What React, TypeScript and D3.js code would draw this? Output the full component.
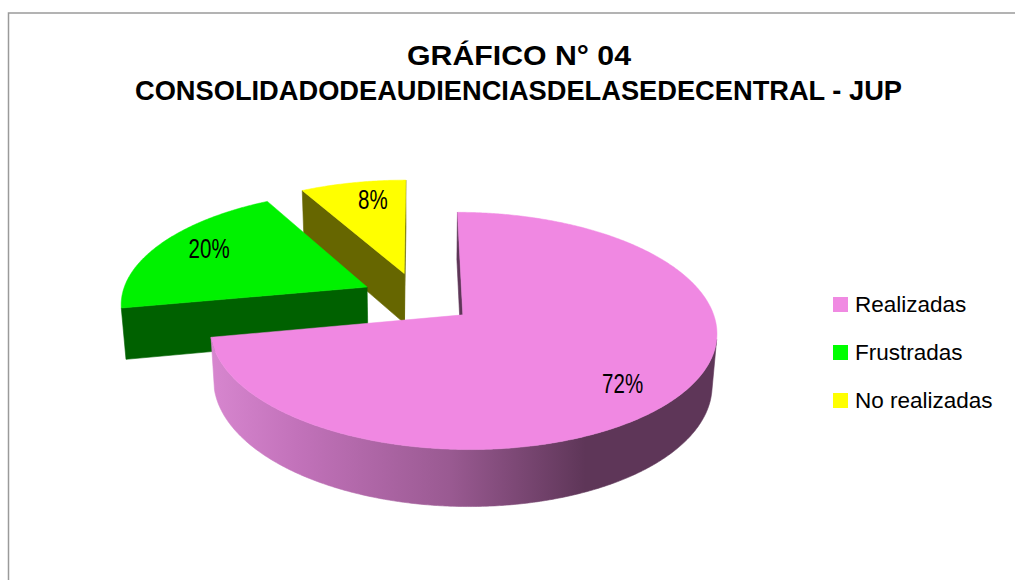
import React from "react";
import * as d3 from "d3";

// ---------- data ----------
const categories = ["Realizadas", "Frustradas", "No realizadas"];
const values = [72, 20, 8];
const percentLabels = ["72%", "20%", "8%"];
const titleLines = ["GRÁFICO N° 04", "CONSOLIDADODEAUDIENCIASDELASEDECENTRAL - JUP"];

// ---------- style ----------
const topColors = ["#f088e2", "#00f200", "#ffff00"];
const sideColors = ["#5e3658", "#006100", "#666600"];
const legendColors = ["#f08ae2", "#00ff00", "#ffff00"];
const pinkWallStops: [number, string][] = [
  [0, "#d786cf"],
  [0.17, "#c272ba"],
  [0.47, "#9a5a92"],
  [0.74, "#5e3658"],
  [1, "#5e3658"],
];

const W = 1015;
const H = 580;
const FONT = "'Liberation Sans', Arial, Helvetica, sans-serif";

// 3D geometry
const CX = 418;
const CY = 298;
const R = 246;
const THICK = 58;
const EXPLODE = 57;
const sinE = 0.455;
const cosE = Math.sqrt(1 - sinE * sinE);
const DIST = 1650;
const cam = [0, DIST * sinE, DIST * cosE];

type P3 = [number, number, number];
type P2 = [number, number];

function project(p: P3): P2 {
  const [x, y, z] = p;
  const d = y * sinE + z * cosE;
  const s = DIST / (DIST - d);
  return [CX + x * s, CY - (y * cosE - z * sinE) * s];
}

function visible(n: P3, p: P3): boolean {
  return n[0] * (cam[0] - p[0]) + n[1] * (cam[1] - p[1]) + n[2] * (cam[2] - p[2]) > 0;
}

const line = d3.line<P2>().x((d) => d[0]).y((d) => d[1]);
const closed = (pts: P2[]) => (line(pts) || "") + "Z";

interface Face {
  d: string;
  fill: string;
}

function buildSlice(a0: number, a1: number, i: number) {
  const mid = (a0 + a1) / 2;
  const ox = EXPLODE * Math.sin(mid);
  const oz = -EXPLODE * Math.cos(mid);
  const pt = (t: number, r: number, y: number): P3 => [ox + r * Math.sin(t), y, oz - r * Math.cos(t)];
  const n = Math.max(8, Math.ceil(((a1 - a0) * 180) / Math.PI / 0.5));
  const ts = d3.range(n + 1).map((k) => a0 + ((a1 - a0) * k) / n);

  const faces: Face[] = [];
  const wallFill = i === 0 ? "url(#wall0)" : sideColors[i];

  const radial = (t: number, nAng: number) => {
    const nrm: P3 = [Math.sin(nAng), 0, -Math.cos(nAng)];
    const c = pt(t, R / 2, -THICK / 2);
    if (visible(nrm, c)) {
      const pts = [pt(t, 0, 0), pt(t, R, 0), pt(t, R, -THICK), pt(t, 0, -THICK)].map(project);
      faces.push({ d: closed(pts), fill: sideColors[i] });
    }
  };
  radial(a0, a0 - Math.PI / 2);
  radial(a1, a1 + Math.PI / 2);

  let run: number[] = [];
  const flush = () => {
    if (run.length >= 2) {
      const topPts = run.map((t) => project(pt(t, R, 0)));
      const botPts = run.slice().reverse().map((t) => project(pt(t, R, -THICK)));
      faces.push({ d: closed([...topPts, ...botPts]), fill: wallFill });
    }
    run = [];
  };
  for (let k = 0; k < n; k++) {
    const tm = (ts[k] + ts[k + 1]) / 2;
    const nrm: P3 = [Math.sin(tm), 0, -Math.cos(tm)];
    if (visible(nrm, pt(tm, R, -THICK / 2))) {
      if (run.length === 0) run.push(ts[k]);
      run.push(ts[k + 1]);
    } else flush();
  }
  flush();

  const topPts: P2[] = [project(pt(0, 0, 0)), ...ts.map((t) => project(pt(t, R, 0)))];
  const top = closed(topPts);

  const xs = ts.map((t) => project(pt(t, R, 0))[0]);
  const labelPos = project(pt(mid + 0.06, R * 0.79, 0));
  return { faces, top, oz, gx0: d3.min(xs)!, gx1: d3.max(xs)!, labelPos };
}

export default function App() {
  const pie = d3
    .pie<number>()
    .sort(null)
    .startAngle(0)
    .endAngle(2 * Math.PI);
  const arcs = pie(values);
  const slices = arcs.map((a, i) => ({ i, ...buildSlice(a.startAngle, a.endAngle, i) }));
  const order = slices.slice().sort((a, b) => a.oz - b.oz);

  const legendX = 833;
  const legendY0 = 297;
  const legendStep = 48;

  return (
    <div style={{ position: "fixed", left: 0, top: 0, width: W, height: H, background: "#fff" }}>
      <svg width={W} height={H} viewBox={`0 0 ${W} ${H}`} style={{ display: "block" }}>
        <defs>
          <linearGradient
            id="wall0"
            gradientUnits="userSpaceOnUse"
            x1={slices[0].gx0}
            x2={slices[0].gx1}
            y1={0}
            y2={0}
          >
            {pinkWallStops.map(([o, c], k) => (
              <stop key={k} offset={o} stopColor={c} />
            ))}
          </linearGradient>
        </defs>
        <rect x={0} y={0} width={W} height={H} fill="#ffffff" />
        <rect x={8.5} y={13} width={W + 20} height={H + 20} fill="none" stroke="#9a9a9a" strokeWidth={1.5} />

        {/* title */}
        <text
          x={519}
          y={65}
          textAnchor="middle"
          fontFamily={FONT}
          fontWeight="bold"
          fontSize={28.5}
          textLength={224}
          lengthAdjust="spacingAndGlyphs"
          fill="#000"
        >
          {titleLines[0]}
        </text>
        <text
          x={518.5}
          y={100}
          textAnchor="middle"
          fontFamily={FONT}
          fontWeight="bold"
          fontSize={28.5}
          textLength={767}
          lengthAdjust="spacingAndGlyphs"
          fill="#000"
        >
          {titleLines[1]}
        </text>

        {/* pie */}
        {order.map((s) => (
          <g key={s.i}>
            {s.faces.map((f, k) => (
              <path key={k} d={f.d} fill={f.fill} stroke={f.fill} strokeWidth={0.6} strokeLinejoin="round" />
            ))}
            <path d={s.top} fill={topColors[s.i]} stroke={topColors[s.i]} strokeWidth={0.5} strokeLinejoin="round" />
          </g>
        ))}

        {/* labels */}
        {slices.map((s) => (
          <text
            key={s.i}
            transform={`translate(${s.labelPos[0]},${s.labelPos[1] + 10}) scale(0.76,1)`}
            textAnchor="middle"
            fontFamily={FONT}
            fontSize={27}
            fill="#000"
          >
            {percentLabels[s.i]}
          </text>
        ))}

        {/* legend */}
        {categories.map((c, i) => (
          <g key={c}>
            <rect x={legendX} y={legendY0 + i * legendStep} width={15} height={15} fill={legendColors[i]} />
            <text
              x={legendX + 22}
              y={legendY0 + i * legendStep + 15}
              fontFamily={FONT}
              fontSize={22.5}
              fill="#000"
            >
              {c}
            </text>
          </g>
        ))}
      </svg>
    </div>
  );
}
